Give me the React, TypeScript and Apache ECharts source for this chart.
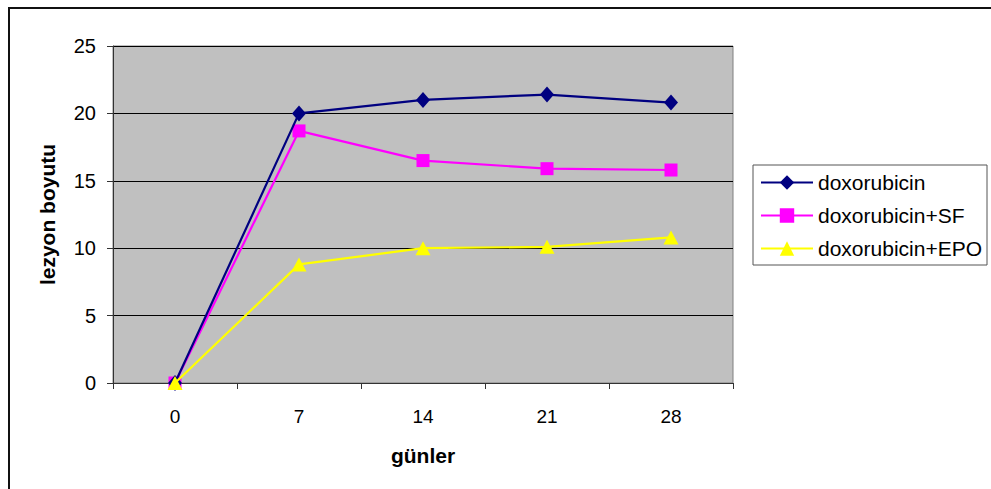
import React, { useEffect, useRef } from "react";
import * as echarts from "echarts";

// Days of observation (x categories)
const days = ["0", "7", "14", "21", "28"];

// Lesion size per group
const doxorubicin = [0, 20.0, 21.0, 21.4, 20.8];
const doxorubicinSF = [0, 18.7, 16.5, 15.9, 15.8];
const doxorubicinEPO = [0, 8.8, 10.0, 10.1, 10.8];

const seriesNames = ["doxorubicin", "doxorubicin+SF", "doxorubicin+EPO"];

const FONT = "'Liberation Sans', Arial, Helvetica, sans-serif";

export default function App() {
  const ref = useRef<HTMLDivElement>(null);

  useEffect(() => {
    if (!ref.current) return;
    const chart = echarts.init(ref.current, null, { renderer: "svg" });
    chart.setOption({
      animation: false,
      backgroundColor: "#ffffff",
      textStyle: { fontFamily: FONT },
      graphic: [
        {
          type: "rect",
          silent: true,
          shape: { x: 9, y: 8, width: 1000, height: 500 },
          style: { fill: "none", stroke: "#111", lineWidth: 2 },
        },
      ],
      grid: {
        left: 113,
        right: 258,
        top: 46,
        bottom: 106,
        show: true,
        backgroundColor: "#c0c0c0",
        borderColor: "#808080",
        borderWidth: 1,
      },
      legend: {
        orient: "vertical",
        left: 753,
        top: 165,
        padding: [7, 5, 6, 7],
        itemGap: 12,
        itemWidth: 52,
        itemHeight: 18,
        borderColor: "#555",
        borderWidth: 1,
        backgroundColor: "#ffffff",
        data: seriesNames,
        textStyle: { fontFamily: FONT, fontSize: 21, color: "#000", lineHeight: 21 },
      },
      xAxis: {
        type: "category",
        data: days,
        boundaryGap: true,
        name: "günler",
        nameLocation: "middle",
        nameGap: 62,
        nameTextStyle: { fontFamily: FONT, fontSize: 21, fontWeight: "bold", color: "#000" },
        axisLine: { lineStyle: { color: "#333", width: 1 } },
        axisTick: { show: true, length: 6, inside: false, lineStyle: { color: "#333" } },
        axisLabel: { fontFamily: FONT, fontSize: 19, color: "#000", margin: 24 },
        splitLine: { show: false },
      },
      yAxis: {
        type: "value",
        min: 0,
        max: 25,
        interval: 5,
        name: "lezyon boyutu",
        nameLocation: "middle",
        nameGap: 55,
        nameTextStyle: { fontFamily: FONT, fontSize: 21, fontWeight: "bold", color: "#000" },
        axisLine: { show: true, lineStyle: { color: "#333", width: 1 } },
        axisTick: { show: true, length: 6, inside: false, lineStyle: { color: "#333" } },
        axisLabel: { fontFamily: FONT, fontSize: 20, color: "#000", margin: 17 },
        splitLine: { show: true, lineStyle: { color: "#000", width: 1 } },
      },
      series: [
        {
          name: seriesNames[0],
          type: "line",
          data: doxorubicin,
          symbol: "diamond",
          symbolSize: [14, 16],
          lineStyle: { color: "#000080", width: 2.2 },
          itemStyle: { color: "#000080" },
          z: 4,
        },
        {
          name: seriesNames[1],
          type: "line",
          data: doxorubicinSF,
          symbol: "rect",
          symbolSize: 13,
          lineStyle: { color: "#ff00ff", width: 2.2 },
          itemStyle: { color: "#ff00ff" },
          z: 3,
        },
        {
          name: seriesNames[2],
          type: "line",
          data: doxorubicinEPO,
          symbol: "triangle",
          symbolSize: [15, 14],
          lineStyle: { color: "#ffff00", width: 2.2 },
          itemStyle: { color: "#ffff00" },
          z: 5,
        },
      ],
    });
    return () => chart.dispose();
  }, []);

  return (
    <div
      ref={ref}
      style={{ position: "absolute", left: 0, top: 0, width: 991, height: 489 }}
    />
  );
}
